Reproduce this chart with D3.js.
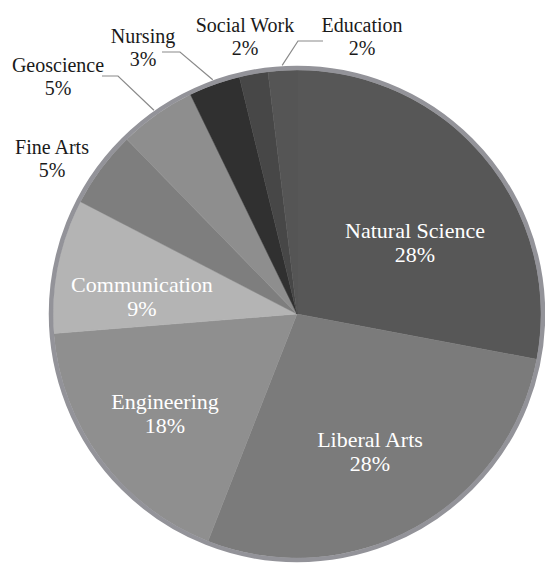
<!DOCTYPE html>
<html>
<head>
<meta charset="utf-8">
<script src="https://cdn.jsdelivr.net/npm/d3@7"></script>
</head>
<body style="margin:0; font-family: 'Times New Roman';">
<script>
// data
var majors = ["Natural Science", "Liberal Arts", "Engineering", "Communication",
              "Fine Arts", "Geoscience", "Nursing", "Social Work", "Education"];
var shares = [28, 28, 17.8, 8.9, 5.1, 5.1, 3.4, 1.9, 1.9];
var sliceColors = ["#575757", "#7b7b7b", "#8f8f8f", "#b4b4b4",
                   "#7e7e7e", "#8e8e8e", "#303030", "#474747", "#555555"];

var width = 545, height = 564;
var cx = 297, cy = 314, radius = 244;

// label anchors (centre x, first baseline y), inside = white text
var labelPos = {
  "Natural Science": [415, 238, true],
  "Liberal Arts": [370, 447, true],
  "Engineering": [165, 409, true],
  "Communication": [142, 292, true],
  "Fine Arts": [52, 154, false],
  "Geoscience": [58, 72, false],
  "Nursing": [143, 43, false],
  "Social Work": [245, 32, false],
  "Education": [362, 32, false]
};
// leader lines: [elbow x, elbow y, end x]
var leaders = {
  "Geoscience": [118, 76, 102],
  "Nursing": [180, 52, 162],
  "Education": [298, 41, 323]
};

var svg = d3.select("body").append("svg")
  .attr("width", width)
  .attr("height", height)
  .attr("font-family", "Times New Roman");

var total = d3.sum(shares);
var pie = d3.pie().sort(null).value(function(d) { return d.v; });
var arc = d3.arc().innerRadius(0).outerRadius(radius);
var rows = majors.map(function(m, i) { return { name: m, v: shares[i], c: sliceColors[i] }; });
var arcs = pie(rows);

var g = svg.append("g").attr("transform", "translate(" + cx + "," + cy + ")");

g.selectAll("path.slice")
  .data(arcs)
  .enter().append("path")
  .attr("class", "slice")
  .attr("d", arc)
  .attr("fill", function(d) { return d.data.c; })
  .attr("stroke", function(d) { return d.data.c; })
  .attr("stroke-width", 0.5);

// grey rim
g.append("circle")
  .attr("r", radius + 2)
  .attr("fill", "none")
  .attr("stroke", "#939399")
  .attr("stroke-width", 4.5);

// leader lines
arcs.forEach(function(d) {
  var l = leaders[d.data.name];
  if (!l) return;
  var a = (d.startAngle + d.endAngle) / 2;
  var r = radius + 5;
  var px = cx + r * Math.sin(a), py = cy - r * Math.cos(a);
  svg.append("polyline")
    .attr("points", [[px, py], [l[0], l[1]], [l[2], l[1]]].map(function(p) { return p.join(","); }).join(" "))
    .attr("fill", "none")
    .attr("stroke", "#8a8a8a")
    .attr("stroke-width", 1.2);
});

// labels, two lines each
arcs.forEach(function(d) {
  var p = labelPos[d.data.name];
  var inside = p[2];
  var lines = [d.data.name, Math.round(d.data.v / total * 100) + "%"];
  lines.forEach(function(s, j) {
    svg.append("text")
      .attr("x", p[0])
      .attr("y", p[1] + j * (inside ? 24 : 23))
      .attr("text-anchor", "middle")
      .attr("font-family", "Times New Roman")
      .attr("font-size", inside ? 22 : 20)
      .attr("fill", inside ? "#ffffff" : "#1a1a1a")
      .text(s);
  });
});
</script>
</body>
</html>
